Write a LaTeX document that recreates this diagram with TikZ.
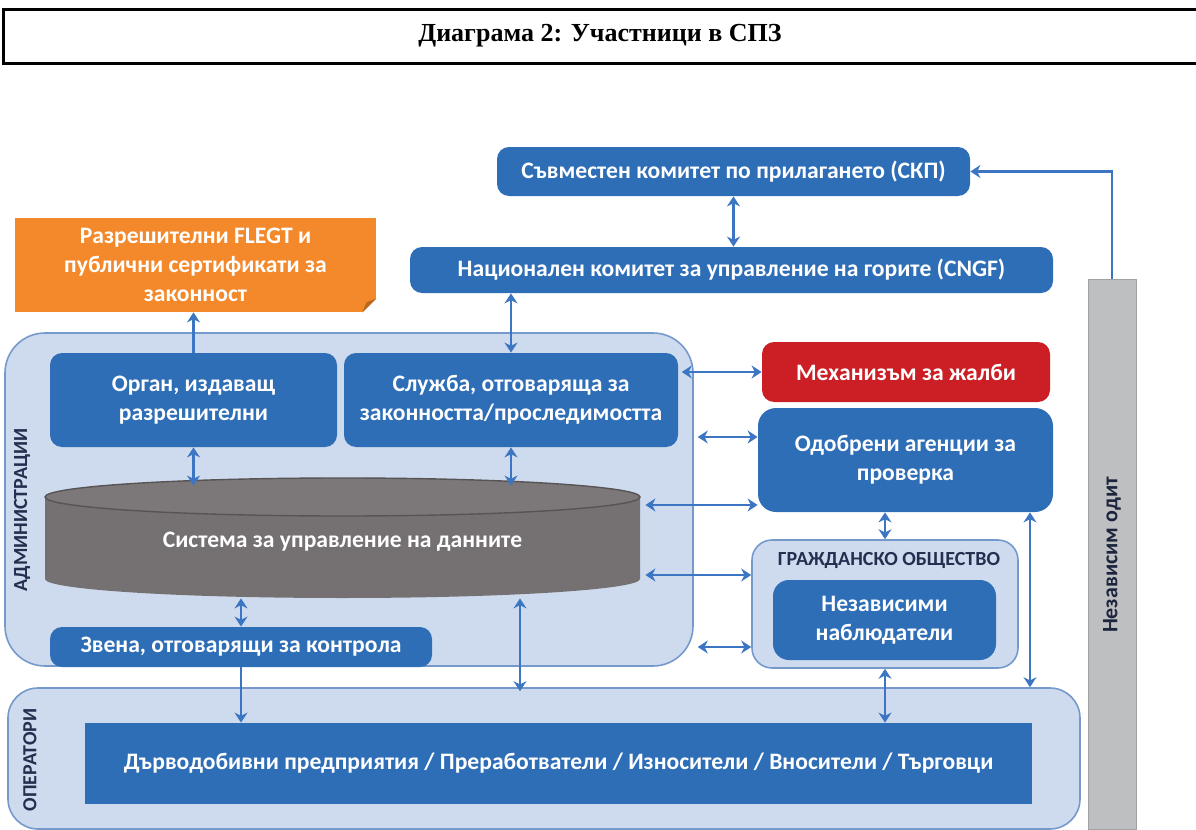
\documentclass[tikz,border=0pt]{standalone}
\usepackage{fontspec}
\setmainfont{Liberation Serif}
\newfontfamily\boxfont{Carlito}
\usetikzlibrary{arrows.meta,calc,positioning}
\definecolor{boxblue}{RGB}{46,110,183}
\definecolor{linkblue}{RGB}{60,118,194}
\definecolor{grpfill}{RGB}{206,219,238}
\definecolor{grpline}{RGB}{118,153,204}
\definecolor{labelnavy}{RGB}{36,46,78}
\definecolor{flegtorange}{RGB}{243,137,43}
\definecolor{alarmred}{RGB}{204,31,37}
\definecolor{dbgray}{RGB}{117,112,114}
\definecolor{dbedge}{RGB}{88,84,86}
\definecolor{auditgray}{RGB}{190,191,193}

\begin{document}
\begin{tikzpicture}[x=0.5pt,y=-0.5pt,
  box/.style={fill=boxblue, rounded corners=6pt, text=white, align=center, inner sep=0pt,
    font=\boxfont\bfseries\fontsize{11.8}{14.5}\selectfont},
  group/.style={fill=grpfill, draw=grpline, line width=0.8pt, inner sep=0pt},
  grouplabel/.style={text=labelnavy, font=\boxfont\bfseries\fontsize{10}{12}\selectfont},
  twoway/.style={draw=linkblue, line width=1.3pt, {Stealth[length=5pt,width=6.5pt]}-{Stealth[length=5pt,width=6.5pt]}},
  oneway/.style={draw=linkblue, line width=1.3pt, -{Stealth[length=5pt,width=6.5pt]}}]

\useasboundingbox (0,0) rectangle (1196,830);

\draw[line width=1.5pt] (1196,9) -- (3,9) -- (3,63) -- (1196,63);
\node[font=\bfseries\fontsize{13}{15}\selectfont] (title) at (600,36) {Диаграма 2: Участници в СПЗ};

\node[group, rounded corners=20pt, minimum width=344pt, minimum height=166.5pt] (adm) at (349,499.5) {};
\node[group, rounded corners=15pt, minimum width=536pt, minimum height=70.5pt] (ops) at (544,758.5) {};
\node[group, rounded corners=10pt, minimum width=133pt, minimum height=64pt] (grazh) at (885,604) {};
\node[fill=auditgray, draw=auditgray!85!black, line width=0.5pt, inner sep=0pt,
  minimum width=24pt, minimum height=275pt] (audit) at (1112,554) {};

\node[grouplabel, rotate=90] (admlabel) at (22,510) {АДМИНИСТРАЦИИ};
\node[grouplabel, rotate=90] (opslabel) at (30,760) {ОПЕРАТОРИ};
\node[grouplabel] (grazhlabel) at (889,560) {ГРАЖДАНСКО ОБЩЕСТВО};
\node[text=labelnavy!80!black, rotate=90, font=\boxfont\bfseries\fontsize{11}{13}\selectfont] (auditlabel) at (1112,555) {Независим одит};

\node[box, minimum width=236.5pt, minimum height=24.5pt] (skp) at (733.5,171.5) {Съвместен комитет по прилагането (СКП)};
\node[box, minimum width=321.5pt, minimum height=23pt] (cngf) at (731.5,270) {Национален комитет за управление на горите (CNGF)};
\node[box, fill=flegtorange, rounded corners=0pt, minimum width=180.5pt, minimum height=47pt] (flegt) at (195.5,265)
  {Разрешителни FLEGT и\\публични сертификати за\\законност};
\fill[white] (flegt.south east) -- ++(-7pt,0) -- ++(7pt,7pt) -- cycle;
\fill[flegtorange!75!black] ([xshift=-7pt]flegt.south east) -- ([yshift=7pt]flegt.south east) -- ([xshift=-5pt,yshift=5pt]flegt.south east) -- cycle;

\node[box, minimum width=143.5pt, minimum height=47pt] (organ) at (193.5,400) {Орган, издаващ\\разрешителни};
\node[box, minimum width=167pt, minimum height=47pt] (sluzhba) at (511,400) {Служба, отговаряща за\\законността/проследимостта};

\fill[dbgray] (45,497) -- (45,579) arc[start angle=180, end angle=360, x radius=148.75pt, y radius=9.5pt] -- (640,497) -- cycle;
\filldraw[fill=dbgray!95!white, draw=dbedge, line width=0.7pt] (342.5,497) ellipse[x radius=148.75pt, y radius=9.5pt];
\node[inner sep=0pt, minimum width=297.5pt, minimum height=56pt, text=white,
  font=\boxfont\bfseries\fontsize{11.8}{14.5}\selectfont] (db) at (342.5,542) {Система за управление на данните};

\node[box, minimum width=191pt, minimum height=20pt] (zvena) at (241,647) {Звена, отговарящи за контрола};
\node[box, rounded corners=0pt, minimum width=473.5pt, minimum height=40.5pt] (darvo) at (558.5,763.5)
  {Дърводобивни предприятия / Преработватели / Износители / Вносители / Търговци};

\node[box, fill=alarmred, minimum width=144pt, minimum height=30pt] (zhalbi) at (906,372) {Механизъм за жалби};
\node[box, rounded corners=9pt, minimum width=147.5pt, minimum height=52pt] (odobreni) at (905.5,460) {Одобрени агенции за\\проверка};
\node[box, rounded corners=8pt, minimum width=111.5pt, minimum height=40pt] (nablyud) at (884.5,620) {Независими\\наблюдатели};

\draw[oneway] (audit.north) |- (skp.east);
\draw[twoway] (skp.south) -- (skp.south |- cngf.north);
\draw[twoway] (sluzhba.north) -- (sluzhba.north |- cngf.south);
\draw[oneway] (organ.north) -- (organ.north |- flegt.south);
\draw[twoway] (organ.south) -- (organ.south |- db.north);
\draw[twoway] (sluzhba.south) -- (sluzhba.south |- db.north);
\draw[twoway] (zvena.north) -- (zvena.north |- db.south);
\draw[oneway] (zvena.south) -- (zvena.south |- darvo.north);
\draw[twoway] ([xshift=88.75pt]db.south) -- ([xshift=88.75pt,yshift=-2pt]db.south |- ops.north);
\draw[twoway] (zhalbi.west) -- ([xshift=-6pt]zhalbi.west -| adm.east);
\draw[twoway] ([yshift=11.5pt]odobreni.west) -- ([yshift=11.5pt,xshift=2pt]odobreni.west -| adm.east);
\draw[twoway] ([yshift=-22.5pt]odobreni.west) -- ([yshift=-22.5pt,xshift=2.5pt]odobreni.west -| db.east);
\draw[twoway] ([yshift=14.5pt]grazh.west) -- ([yshift=14.5pt,xshift=2.5pt]grazh.west -| db.east);
\draw[twoway] ([yshift=-21.5pt]grazh.west) -- ([yshift=-21.5pt,xshift=2pt]grazh.west -| adm.east);
\draw[twoway] (grazh.north) -- (grazh.north |- odobreni.south);
\draw[twoway] ([xshift=62.25pt]odobreni.south) -- ([xshift=62.25pt]odobreni.south |- ops.north);
\draw[twoway] (grazh.south) -- (grazh.south |- darvo.north);
\end{tikzpicture}
\end{document}
